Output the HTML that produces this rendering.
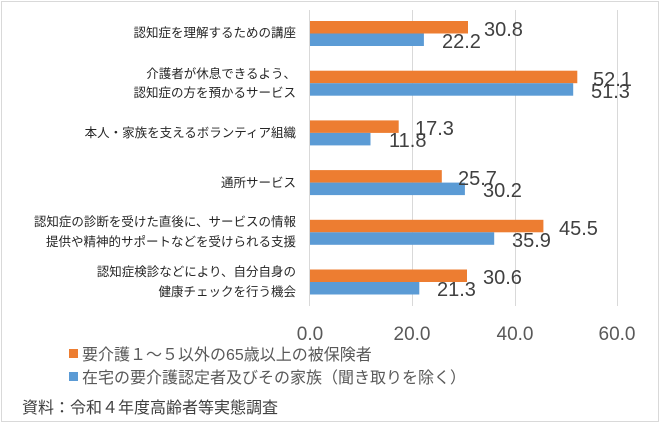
<!DOCTYPE html><html><head><meta charset="utf-8"><style>
body{margin:0;background:#fff;}
svg{display:block;font-family:"Liberation Sans","Noto Sans CJK JP",sans-serif;}
</style></head><body>
<svg width="661" height="424" viewBox="0 0 661 424">
<rect x="1.5" y="1.5" width="657" height="420" fill="#fff" stroke="#d9d9d9"/>
<g stroke="#d9d9d9" stroke-width="1">
<line x1="412.5" y1="10" x2="412.5" y2="306"/>
<line x1="515.5" y1="10" x2="515.5" y2="306"/>
<line x1="617.5" y1="10" x2="617.5" y2="306"/>
<line x1="309.5" y1="10" x2="309.5" y2="306"/>
</g>
<g>
<rect x="310" y="21" width="158" height="12.5" fill="#ed7d31"/>
<rect x="310" y="33.5" width="113.9" height="12.5" fill="#5b9bd5"/>
<rect x="310" y="70.7" width="267.3" height="12.5" fill="#ed7d31"/>
<rect x="310" y="83.2" width="263.2" height="12.5" fill="#5b9bd5"/>
<rect x="310" y="120.4" width="88.7" height="12.5" fill="#ed7d31"/>
<rect x="310" y="132.9" width="60.5" height="12.5" fill="#5b9bd5"/>
<rect x="310" y="170.1" width="131.8" height="12.5" fill="#ed7d31"/>
<rect x="310" y="182.6" width="154.9" height="12.5" fill="#5b9bd5"/>
<rect x="310" y="219.8" width="233.4" height="12.5" fill="#ed7d31"/>
<rect x="310" y="232.3" width="184.2" height="12.5" fill="#5b9bd5"/>
<rect x="310" y="269.5" width="157" height="12.5" fill="#ed7d31"/>
<rect x="310" y="282" width="109.3" height="12.5" fill="#5b9bd5"/>
</g>
<g font-size="20" fill="#404040">
<text x="484" y="36">30.8</text><text x="442" y="48">22.2</text>
<text x="593" y="86">52.1</text><text x="591" y="98">51.3</text>
<text x="415" y="135">17.3</text><text x="389" y="147">11.8</text>
<text x="458" y="185">25.7</text><text x="483" y="197">30.2</text>
<text x="559" y="235">45.5</text><text x="512" y="247">35.9</text>
<text x="483" y="284">30.6</text><text x="437" y="296">21.3</text>
</g>
<g font-size="19" fill="#595959" text-anchor="middle">
<text x="310" y="340">0.0</text><text x="412" y="340">20.0</text><text x="515" y="340">40.0</text><text x="617" y="340">60.0</text>
</g>
<g font-size="12.5" fill="#262626" text-anchor="end">
<text x="296" y="37">認知症を理解するための講座</text>
<text x="296" y="78">介護者が休息できるよう、</text>
<text x="296" y="97">認知症の方を預かるサービス</text>
<text x="296" y="137">本人・家族を支えるボランティア組織</text>
<text x="296" y="187">通所サービス</text>
<text x="296" y="226">認知症の診断を受けた直後に、サービスの情報</text>
<text x="296" y="246">提供や精神的サポートなどを受けられる支援</text>
<text x="296" y="276">認知症検診などにより、自分自身の</text>
<text x="296" y="296">健康チェックを行う機会</text>
</g>
<rect x="69" y="349" width="9" height="9" fill="#ed7d31"/>
<rect x="69" y="372" width="9" height="9" fill="#5b9bd5"/>
<g font-size="16" fill="#595959">
<text x="82" y="360">要介護１～５以外の65歳以上の被保険者</text>
<text x="82" y="383">在宅の要介護認定者及びその家族（聞き取りを除く）</text>
</g>
<text x="22" y="413" font-size="16" fill="#404040">資料：令和４年度高齢者等実態調査</text>
</svg>
</body></html>
